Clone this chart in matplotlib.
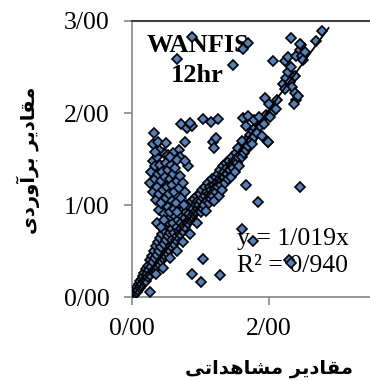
import numpy as np
import matplotlib
matplotlib.use('Agg')
import matplotlib.pyplot as plt

# main band along the 1:1 line (observed, predicted)
band_low_obs = [0.01, 0.02, 0.03, 0.04, 0.05, 0.06, 0.07, 0.08, 0.09, 0.10, 0.11, 0.12, 0.13, 0.14, 0.15,
                0.16, 0.17, 0.18, 0.19, 0.20, 0.21, 0.22, 0.23, 0.24, 0.25, 0.26, 0.27, 0.28, 0.29, 0.30,
                0.31, 0.32, 0.33, 0.34, 0.35, 0.36, 0.37, 0.38, 0.39, 0.40, 0.41, 0.42, 0.43, 0.44, 0.45,
                0.46, 0.47, 0.48, 0.49, 0.50, 0.51, 0.52, 0.53, 0.54, 0.55, 0.56, 0.57, 0.58, 0.59, 0.60,
                0.61, 0.62, 0.63, 0.64, 0.65, 0.66, 0.67, 0.68, 0.69, 0.70, 0.71, 0.72, 0.73, 0.74, 0.75,
                0.76, 0.77, 0.78, 0.79, 0.80, 0.81, 0.82, 0.83, 0.84, 0.85, 0.86, 0.87, 0.88, 0.89, 0.90,
                0.91, 0.92, 0.93, 0.94, 0.95, 0.96, 0.97, 0.98, 0.99,
                0.35, 0.45, 0.55, 0.65, 0.75, 0.85, 0.95]
band_low_pred = [0.01, 0.03, 0.02, 0.06, 0.04, 0.09, 0.05, 0.11, 0.08, 0.14, 0.10, 0.17, 0.12, 0.20, 0.14,
                 0.23, 0.16, 0.26, 0.19, 0.30, 0.17, 0.25, 0.34, 0.22, 0.29, 0.40, 0.24, 0.33, 0.45, 0.27,
                 0.38, 0.50, 0.30, 0.42, 0.55, 0.33, 0.46, 0.60, 0.36, 0.50, 0.64, 0.39, 0.54, 0.68, 0.42,
                 0.58, 0.73, 0.45, 0.62, 0.78, 0.48, 0.66, 0.82, 0.51, 0.70, 0.86, 0.55, 0.74, 0.62, 0.80,
                 0.58, 0.70, 0.88, 0.62, 0.76, 0.66, 0.84, 0.72, 0.92, 0.68, 0.80, 0.74, 0.88, 0.72, 0.95,
                 0.78, 0.86, 0.76, 0.92, 0.82, 1.00, 0.80, 0.90, 0.84, 0.98, 0.86, 1.04, 0.88, 0.96, 0.90,
                 1.06, 0.92, 1.00, 0.94, 1.10, 0.96, 1.04, 1.00, 1.12,
                 0.25, 0.32, 0.42, 0.50, 0.60, 0.68, 0.80]

band_high_obs = [1.00, 1.01, 1.02, 1.03, 1.04, 1.05, 1.06, 1.07, 1.08, 1.09, 1.10, 1.11, 1.12, 1.13, 1.14,
                 1.15, 1.16, 1.17, 1.18, 1.19, 1.20, 1.21, 1.22, 1.23, 1.24, 1.25, 1.26, 1.27, 1.28, 1.29,
                 1.30, 1.31, 1.32, 1.33, 1.34, 1.35, 1.36, 1.37, 1.38, 1.39, 1.40, 1.42, 1.43, 1.44, 1.45,
                 1.46, 1.48, 1.49, 1.50, 1.52, 1.53, 1.55, 1.56, 1.58, 1.60, 1.62, 1.63, 1.65, 1.67, 1.69,
                 1.70, 1.72, 1.74, 1.76, 1.78, 1.80, 1.82, 1.84, 1.87, 1.90, 1.93, 1.96,
                 1.62, 1.70, 1.66, 1.78, 1.85, 1.55, 1.60, 1.75, 1.90, 1.99]
band_high_pred = [0.92, 1.04, 1.16, 0.96, 1.08, 1.00, 1.20, 1.10, 0.94, 1.04, 1.14, 1.24, 1.02, 1.12, 1.20,
                  1.06, 1.16, 1.28, 1.10, 1.22, 1.04, 1.18, 1.30, 1.14, 1.24, 1.34, 1.20, 1.10, 1.28, 1.38,
                  1.22, 1.32, 1.16, 1.42, 1.30, 1.36, 1.24, 1.46, 1.34, 1.40, 1.28, 1.48, 1.38, 1.30, 1.44,
                  1.52, 1.40, 1.48, 1.36, 1.56, 1.46, 1.52, 1.42, 1.60, 1.52, 1.64, 1.56, 1.68, 1.60, 1.72,
                  1.64, 1.76, 1.70, 1.80, 1.74, 1.84, 1.78, 1.90, 1.86, 1.94, 1.88, 1.98,
                  1.95, 1.97, 1.86, 1.92, 1.96, 1.62, 1.70, 1.66, 1.75, 1.69]

# upper end of the band
top_obs = [1.94, 2.00, 2.05, 2.10, 2.02, 2.12, 2.06, 2.23, 2.28, 2.20, 2.25, 2.30, 2.34, 2.28, 2.32,
           2.38, 2.24, 2.38, 2.40, 2.36, 2.42, 2.40, 2.45, 2.48, 2.52, 2.46, 2.50, 2.32, 2.45, 2.68, 2.77]
top_pred = [2.16, 2.10, 2.00, 2.04, 1.96, 2.14, 2.56, 2.56, 2.61, 2.32, 2.38, 2.34, 2.28, 2.45, 2.50,
            2.40, 2.26, 2.22, 2.14, 2.10, 2.18, 2.62, 2.68, 2.62, 2.66, 2.74, 2.58, 2.82, 2.75, 2.78, 2.89]

# over-estimated lobe at low observed values
lobe_obs = [0.26, 0.28, 0.30, 0.30, 0.33, 0.34, 0.35, 0.36, 0.37, 0.38, 0.39, 0.40, 0.41, 0.42, 0.43,
            0.44, 0.45, 0.46, 0.47, 0.48, 0.49, 0.50, 0.51, 0.52, 0.53, 0.54, 0.55, 0.56, 0.57, 0.58,
            0.59, 0.60, 0.61, 0.62, 0.63, 0.64, 0.65, 0.66, 0.68, 0.70, 0.72, 0.74, 0.76, 0.78, 0.36,
            0.42, 0.46, 0.40, 0.33, 0.52]
lobe_pred = [1.24, 1.36, 1.48, 1.14, 1.28, 1.42, 1.05, 1.20, 1.52, 1.34, 1.12, 0.95, 1.44, 1.26, 1.02,
             1.36, 1.16, 1.56, 0.90, 1.30, 1.08, 1.46, 1.20, 0.98, 1.38, 1.12, 1.28, 0.92, 1.44, 1.04,
             1.22, 1.34, 0.96, 1.14, 1.40, 1.02, 1.26, 0.92, 1.18, 1.32, 1.08, 1.24, 1.00, 1.14, 0.80,
             0.76, 0.84, 1.60, 1.58, 1.54]

# scattered points
out_obs = [0.87, 0.65, 1.47, 1.62, 1.70, 1.04, 1.15, 1.26, 0.72, 0.80, 0.88, 0.85, 0.32, 0.31, 0.38,
           0.50, 1.18, 1.22, 1.20, 0.77, 0.68, 0.60, 0.55, 0.70, 0.66, 0.82, 0.78, 1.67, 2.45, 1.84,
           1.61, 1.77, 2.29, 2.32, 1.04, 0.88, 1.01, 1.28, 0.27, 1.99]
out_pred = [2.83, 2.59, 2.52, 2.70, 2.76, 1.93, 1.90, 1.94, 1.88, 1.84, 1.86, 1.89, 1.78, 1.66, 1.68,
            1.67, 1.68, 1.73, 1.62, 1.68, 1.60, 1.56, 1.52, 1.52, 1.49, 1.42, 1.48, 1.22, 1.20, 1.03,
            0.74, 0.61, 0.40, 0.37, 0.41, 0.25, 0.16, 0.24, 0.05, 1.68]

slope = 1.019
r2 = 0.940
x_ticks = [0, 2, 4]
x_ticklabels = ['0/00', '2/00', '']
y_ticks = [0, 1, 2, 3]
y_ticklabels = ['0/00', '1/00', '2/00', '3/00']

obs = np.array(band_low_obs + band_high_obs + top_obs + lobe_obs + out_obs)
pred = np.array(band_low_pred + band_high_pred + top_pred + lobe_pred + out_pred)

# persian labels in presentation forms, visual order
xlabel = '\uFEF0\uFE97\uFE8D\uFEAA\uFEEB\uFE8E\uFEB8\uFEE3 \uFEAE\uFEF3\uFEA9\uFE8E\uFED8\uFEE3'
ylabel = '\uFEEF\uFEA9\uFEAD\uFEED\uFE81\uFEAE\uFE91 \uFEAE\uFEF3\uFEA9\uFE8E\uFED8\uFEE3'

serif = 'Liberation Serif'
fig = plt.figure(figsize=(3.7, 3.81), dpi=100)
ax = fig.add_axes([132/370, 84/381, 274/370, 276/381])

ax.plot(obs, pred, 'D', ms=4.6, mfc='#4F81BD', mec='black', mew=1.2, zorder=3)
xs = np.array([0, 2.87])
ax.plot(xs, slope * xs, color='black', lw=1.3, zorder=4)

ax.set_xlim(0, 4)
ax.set_ylim(0, 3)
ax.set_xticks(x_ticks)
ax.set_yticks(y_ticks)
ax.set_xticklabels(x_ticklabels, fontfamily=serif, fontsize=18.5)
ax.set_yticklabels(y_ticklabels, fontfamily=serif, fontsize=18.5)
ax.tick_params(direction='out', length=6, width=1.2, color='#868686')
ax.tick_params(axis='y', pad=10)
ax.tick_params(axis='x', pad=9)
for s in ['left', 'bottom']:
    ax.spines[s].set_color('#868686')
    ax.spines[s].set_linewidth(1.2)
for s in ['top', 'right']:
    ax.spines[s].set_color('#404040')
    ax.spines[s].set_linewidth(1.5)

ax.text(0.96, 2.66, 'WANFIS', ha='center', va='baseline', fontfamily=serif,
        fontweight='bold', fontsize=19, zorder=1)
ax.text(0.96, 2.34, '12hr', ha='center', va='baseline', fontfamily=serif,
        fontweight='bold', fontsize=19, zorder=1)
ax.text(1.53, 0.565, 'y = %s' % ('%.3fx' % slope).replace('.', '/'), ha='left', va='baseline',
        fontfamily=serif, fontsize=18.5, zorder=1)
ax.text(1.53, 0.27, 'R\u00b2 = %s' % ('%.3f' % r2).replace('.', '/'), ha='left', va='baseline',
        fontfamily=serif, fontsize=18.5, zorder=1)

fig.text(28/370, 1 - 160/381, ylabel, rotation=90, ha='center', va='center',
         fontfamily='DejaVu Sans', fontweight='bold', fontsize=14)
fig.text(269/370, 1 - 369/381, xlabel, ha='center', va='center',
         fontfamily='DejaVu Sans', fontweight='bold', fontsize=14)

fig.savefig('out.png', dpi=100)
